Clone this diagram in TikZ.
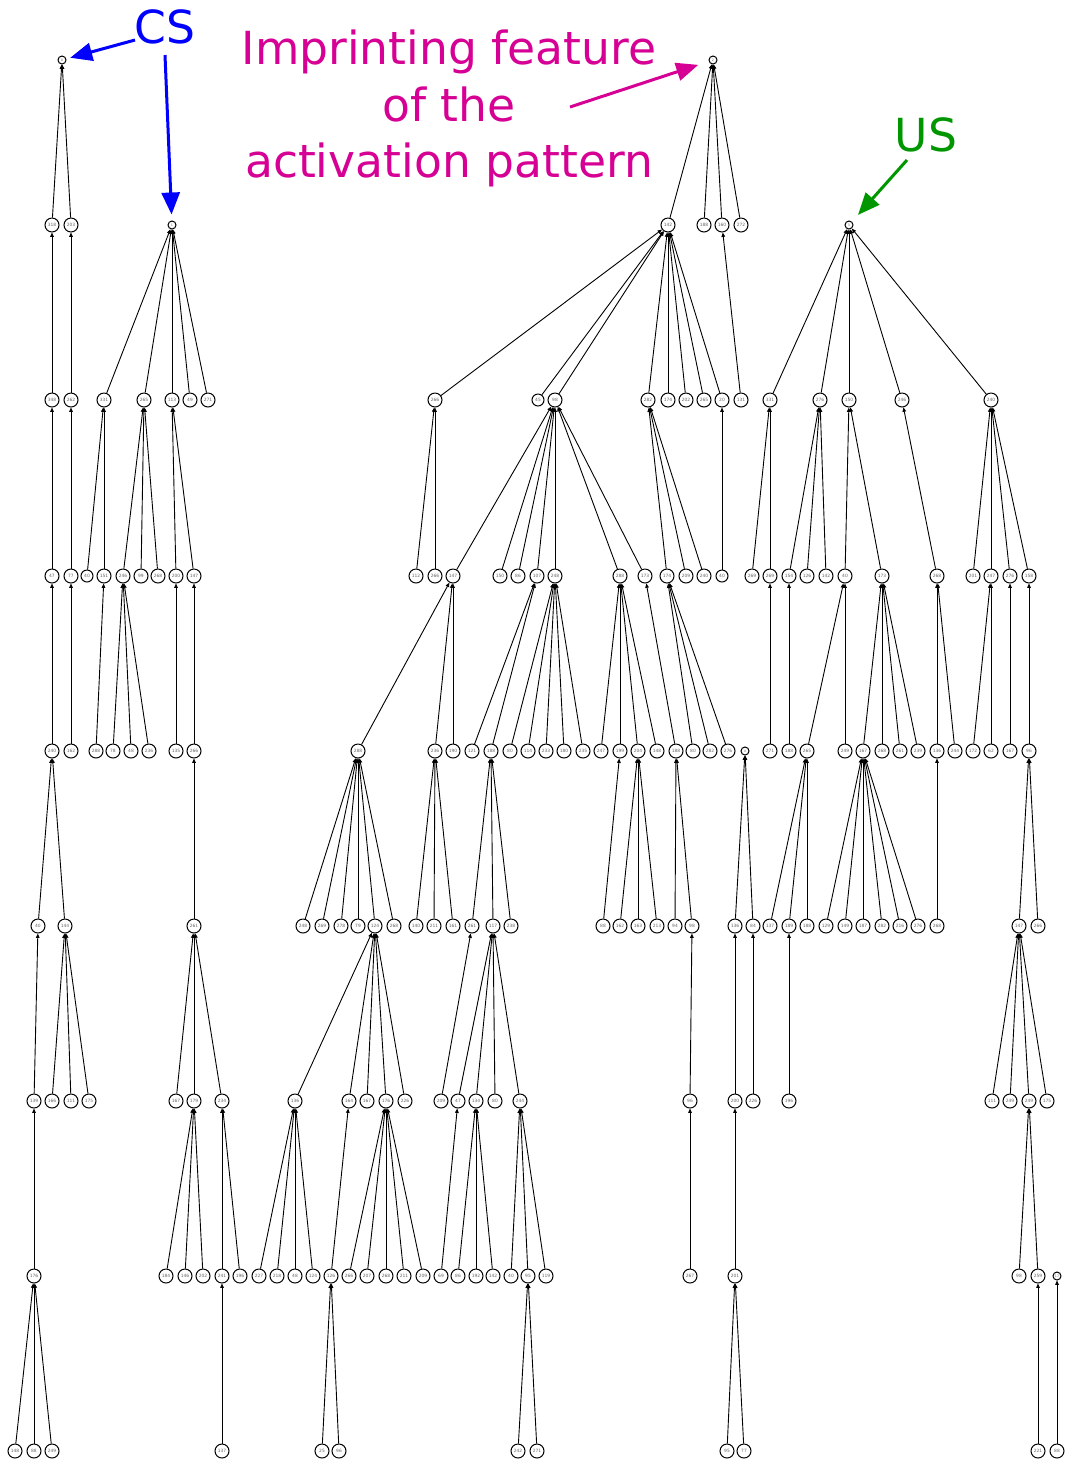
\documentclass[tikz,border=0pt]{standalone}
\usepackage{fontspec}
\setmainfont{DejaVu Sans}
\usetikzlibrary{arrows.meta}
\definecolor{csblue}{RGB}{0,0,255}
\definecolor{impmag}{RGB}{214,0,148}
\definecolor{usgreen}{RGB}{0,150,0}
\tikzset{
  vtx/.style={circle, draw, line width=0.5pt, minimum size=7pt, inner sep=0pt,
              font=\fontsize{2.2}{2.2}\selectfont, text=black!60},
  vtxsm/.style={vtx, minimum size=6pt},
  seed/.style={circle, draw, line width=0.5pt, minimum size=4pt, inner sep=0pt,
               font=\fontsize{1.6}{1.6}\selectfont, text=black!60},
  link/.style={line width=0.45pt, -{Triangle[length=2.2pt,width=1.8pt]}},
  callout/.style={line width=1.5pt, -{Triangle[length=11pt,width=9pt]}},
  bigtext/.style={font=\fontsize{22.8}{28.25}\selectfont, anchor=base, inner sep=0pt},
}
\begin{document}
\begin{tikzpicture}[x=0.5pt,y=-0.5pt]
\useasboundingbox (0,0) rectangle (1066,1464);

% ---- root / seed vertices
\node[seed] (cs) at (62,60) {0};
\node[seed] (r)  at (713,60) {2};
\node[seed] (b0) at (172,225) {1};
\node[seed] (u)  at (849,225) {3};
\node[seed] (c45) at (745,751) {4};
\node[seed] (d51) at (1057,1276) {17};

% ---- level 1
\foreach \n/\x/\t in {a1/52/318, a2/71/203, c1/668/142, c2/704/188, c3/722/160, c4/741/272}
  \node[vtx] (\n) at (\x,225) {\t};

% ---- level 2
\foreach \n/\x/\t in {a3/52/348, a4/71/262, b1/104/331, b2/144/265, b3/172/113, b4/190/49,
  b5/208/271, c5/435/266, c7/555/98, c8/648/282, c9/668/174, c10/686/202, c11/704/265,
  c12/722/20, c13/741/131, d1/770/331, d2/820/276, d3/849/150, d4/902/246, d5/991/240}
  \node[vtx] (\n) at (\x,400) {\t};
\node[vtxsm] (c6) at (538,400) {45};

% ---- level 3
\foreach \n/\x/\t in {a5/52/47, a6/71/77, b7/104/151, b8/123/246, b9/141/99, b10/158/268,
  b11/176/200, b12/194/147, c14/416/112, c15/435/266, c16/453/147, c17/500/150, c18/518/86,
  c19/537/107, c20/555/248, c21/620/288, c22/645/173, c23/667/174, c24/686/209, c25/704/240,
  d6/752/269, d7/770/269, d8/789/154, d9/807/126, d10/826/142, d11/845/40, d12/882/173,
  d13/937/268, d14/973/201, d15/991/247, d16/1010/276, d17/1029/158}
  \node[vtx] (\n) at (\x,576) {\t};
\node[vtxsm] (b6) at (87,576) {40};
\node[vtxsm] (c26) at (722,576) {40};

% ---- level 4
\foreach \n/\x/\t in {a7/52/240, a8/71/162, b13/96/288, b14/113/78, b15/131/48, b16/149/236,
  b17/176/135, b18/194/266, c27/358/288, c28/435/236, c29/453/190, c30/472/121, c31/491/188,
  c32/510/80, c33/528/114, c34/546/233, c35/564/180, c36/583/235, c37/601/247, c38/620/199,
  c39/638/204, c40/657/148, c41/676/188, c42/693/80, c43/710/282, c44/728/276,
  d18/770/271, d19/789/188, d20/807/265, d21/845/249, d22/863/167, d23/882/268, d24/900/261,
  d25/918/239, d26/937/136, d27/955/244, d28/973/172, d29/991/62, d30/1010/167, d31/1029/96}
  \node[vtx] (\n) at (\x,751) {\t};

% ---- level 5
\foreach \n/\x/\t in {a9/38/40, a10/65/144, b19/194/261, c46/303/248, c47/322/269, c48/341/278,
  c49/358/79, c50/375/124, c51/394/268, c52/416/140, c53/434/211, c54/453/161, c55/472/261,
  c56/493/117, c57/511/238, c58/603/88, c59/620/162, c60/638/163, c61/657/213, c62/675/94,
  c63/692/98, c64/735/136, c65/753/84, d32/770/137, d33/789/189, d34/807/188, d35/826/129,
  d36/845/149, d37/863/187, d38/882/282, d39/900/216, d40/918/276, d41/937/268,
  d42/1019/147, d43/1038/266}
  \node[vtx] (\n) at (\x,926) {\t};

% ---- level 6
\foreach \n/\x/\t in {a11/34/139, a12/52/166, a13/71/111, a14/89/175, b20/176/167, b21/194/179,
  b22/222/234, c66/295/136, c67/349/164, c68/367/167, c69/386/176, c70/405/226, c71/441/209,
  c72/458/47, c73/476/134, c74/495/80, c75/520/244, c76/690/96, c77/735/200, c78/753/226,
  d44/789/196, d45/992/111, d46/1010/249, d47/1029/249, d48/1047/175}
  \node[vtx] (\n) at (\x,1101) {\t};

% ---- level 7
\foreach \n/\x/\t in {a15/34/176, b23/166/184, b24/185/146, b25/203/202, b26/222/241, b27/240/196,
  c79/259/227, c80/277/218, c81/295/48, c82/313/124, c83/331/126, c84/349/266, c85/367/207,
  c86/386/268, c87/404/211, c88/423/209, c89/441/69, c90/458/86, c91/476/192, c92/493/142,
  c93/511/40, c94/528/95, c95/546/119, c96/690/267, c97/735/201, d49/1019/98, d50/1038/259}
  \node[vtx] (\n) at (\x,1276) {\t};

% ---- level 8
\foreach \n/\x/\t in {a16/15/148, a17/34/88, a18/52/249, b28/222/137, c98/322/25, c99/339/96,
  c100/518/242, c101/537/271, c102/727/95, c103/744/77, d52/1038/221, d53/1057/88}
  \node[vtx] (\n) at (\x,1451) {\t};

% ---- edges, child -> parent
\foreach \c/\p in {a1/cs, a2/cs, a3/a1, a4/a2, a5/a3, a6/a4, a7/a5, a8/a6, a9/a7, a10/a7,
  a11/a9, a12/a10, a13/a10, a14/a10, a15/a11, a16/a15, a17/a15, a18/a15}
  \draw[link] (\c) -- (\p);
\foreach \c/\p in {b1/b0, b2/b0, b3/b0, b4/b0, b5/b0, b6/b1, b7/b1, b8/b2, b9/b2, b10/b2,
  b11/b3, b12/b3, b13/b7, b14/b8, b15/b8, b16/b8, b17/b11, b18/b12, b19/b18, b20/b19,
  b21/b19, b22/b19, b23/b21, b24/b21, b25/b21, b26/b22, b27/b22, b28/b26}
  \draw[link] (\c) -- (\p);
\foreach \c/\p in {c1/r, c2/r, c3/r, c4/r, c5/c1, c6/c1, c7/c1, c8/c1, c9/c1, c10/c1, c11/c1,
  c12/c1, c13/c3, c14/c5, c15/c5, c16/c7, c17/c7, c18/c7, c19/c7, c20/c7, c21/c7, c22/c7,
  c23/c8, c24/c8, c25/c8, c26/c12, c27/c16, c28/c16, c29/c16, c30/c19, c31/c19, c32/c20,
  c33/c20, c34/c20, c35/c20, c36/c20, c37/c21, c38/c21, c39/c21, c40/c21, c41/c22,
  c42/c23, c43/c23, c44/c23}
  \draw[link] (\c) -- (\p);
\foreach \c/\p in {c46/c27, c47/c27, c48/c27, c49/c27, c50/c27, c51/c27, c52/c28, c53/c28,
  c54/c28, c55/c31, c56/c31, c57/c31, c58/c38, c59/c39, c60/c39, c61/c39, c62/c41, c63/c41,
  c64/c45, c65/c45, c66/c50, c67/c50, c68/c50, c69/c50, c70/c50, c71/c55, c72/c56,
  c73/c56, c74/c56, c75/c56, c76/c63, c77/c64, c78/c65, c79/c66, c80/c66, c81/c66,
  c82/c66, c83/c67, c84/c69, c85/c69, c86/c69, c87/c69, c88/c69, c89/c72, c90/c73,
  c91/c73, c92/c73, c93/c75, c94/c75, c95/c75, c96/c76, c97/c77, c98/c83, c99/c83,
  c100/c94, c101/c94, c102/c97, c103/c97}
  \draw[link] (\c) -- (\p);
\foreach \c/\p in {d1/u, d2/u, d3/u, d4/u, d5/u, d6/d1, d7/d1, d8/d2, d9/d2, d10/d2, d11/d3,
  d12/d3, d13/d4, d14/d5, d15/d5, d16/d5, d17/d5, d18/d7, d19/d8, d20/d11, d21/d11,
  d22/d12, d23/d12, d24/d12, d25/d12, d26/d13, d27/d13, d28/d15, d29/d15, d30/d16,
  d31/d17, d32/d20, d33/d20, d34/d20, d35/d22, d36/d22, d37/d22, d38/d22, d39/d22,
  d40/d22, d41/d26, d42/d31, d43/d31, d44/d33, d45/d42, d46/d42, d47/d42, d48/d42,
  d49/d47, d50/d47, d52/d50, d53/d51}
  \draw[link] (\c) -- (\p);

% ---- annotations
\node[bigtext, text=csblue] (cslab) at (165,43) {CS};
\coordinate (csA) at (135,40);
\coordinate (csB) at (165,55);
\draw[callout, csblue, shorten >=2pt] (csA) -- (cs);
\draw[callout, csblue, shorten >=3pt] (csB) -- (b0);

\node[bigtext, text=impmag] (imp1) at (449,64) {Imprinting feature};
\node[bigtext, text=impmag] (imp2) at (449,121) {of the};
\node[bigtext, text=impmag] (imp3) at (449,177) {activation pattern};
\coordinate (impA) at (570,107);
\draw[callout, impmag, shorten >=5.5pt] (impA) -- (r);

\node[bigtext, text=usgreen] (uslab) at (926,151) {US};
\coordinate (usA) at (907,160);
\draw[callout, usgreen, shorten >=4.5pt] (usA) -- (u);
\end{tikzpicture}
\end{document}
